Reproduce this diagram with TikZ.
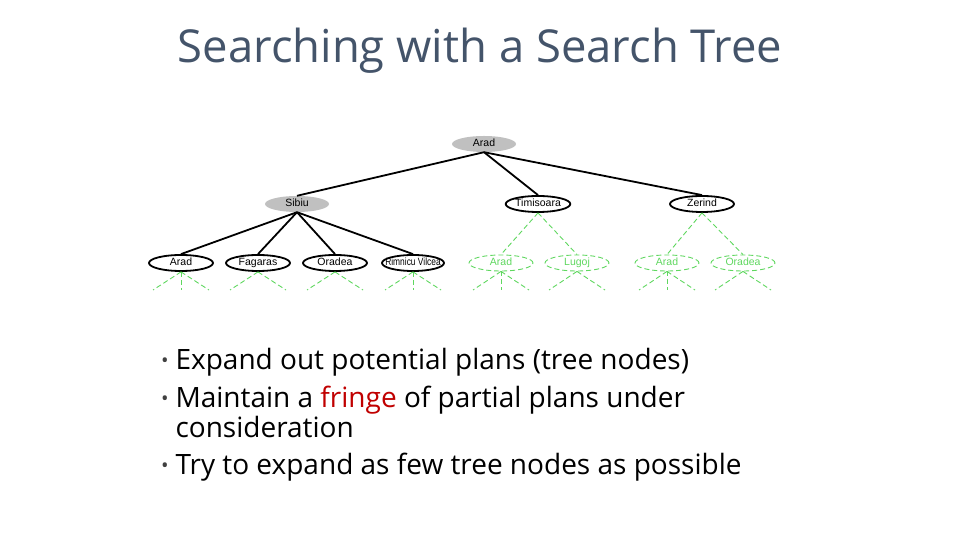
\documentclass[tikz,border=0pt]{standalone}
\usepackage{fontspec}
\setmainfont{Open Sans}
\newfontfamily\treefont{Liberation Sans}
\usetikzlibrary{shapes.geometric}
\definecolor{titlegray}{HTML}{44546A}
\definecolor{fringered}{HTML}{C00000}
\definecolor{stubgreen}{RGB}{95,215,95}
\definecolor{nodegray}{RGB}{192,192,192}
\tikzset{
  city/.style={ellipse, minimum width=64pt, minimum height=16pt, inner sep=0pt,
    text height=7.5pt, text depth=2pt, font=\treefont\fontsize{10.5}{10.5}\selectfont},
  done/.style={city, fill=nodegray},
  open/.style={city, draw, line width=1.8pt, fill=white},
  fresh/.style={city, draw=stubgreen, text=stubgreen, line width=0.9pt,
    dash pattern=on 5pt off 3pt},
  edge/.style={line width=1.8pt},
  stub/.style={draw=stubgreen, line width=0.9pt, dash pattern=on 5pt off 3pt},
  point/.style={anchor=base west, font=\fontsize{28}{30}\selectfont},
  dot/.style={anchor=base, font=\fontsize{20}{20}\selectfont, text=black!75},
}
\begin{document}
\begin{tikzpicture}[x=1pt, y=1pt, node distance=60pt]
    \useasboundingbox (0,0) rectangle (960,540);
    \node[anchor=base, text=titlegray, font=\fontsize{45.4}{45}\selectfont] (title) at (480,477) {Searching with a Search Tree};

    % search tree
    \node[done] (root) at (484,396) {Arad};
    \node[done, below of=root, xshift=-187pt] (sib) {Sibiu};
    \node[open, below of=root, xshift=54pt] (tim) {Timisoara};
    \node[open, below of=root, xshift=218pt] (zer) {Zerind};
    \node[open, below of=sib, node distance=59pt, xshift=-116pt] (a1) {Arad};
    \node[open, below of=sib, node distance=59pt, xshift=-39pt] (fa) {Fagaras};
    \node[open, below of=sib, node distance=59pt, xshift=38pt] (or1) {Oradea};
    \node[open, below of=sib, node distance=59pt, xshift=116pt, minimum width=62pt]
      (rv) {\makebox[0pt]{\scalebox{0.8}[1]{Rimnicu Vilcea}}};
    \node[fresh, below of=tim, node distance=59pt, xshift=-37pt] (a2) {Arad};
    \node[fresh, below of=tim, node distance=59pt, xshift=39pt] (lu) {Lugoj};
    \node[fresh, below of=zer, node distance=59pt, xshift=-35pt] (a3) {Arad};
    \node[fresh, below of=zer, node distance=59pt, xshift=41pt] (or2) {Oradea};

    \draw[edge] (root.south) -- (sib.north);
    \draw[edge] (root.south) -- (tim.north);
    \draw[edge] (root.south) -- (zer.north);
    \foreach \n in {a1,fa,or1,rv}
        \draw[edge] (sib.south) -- (\n.north);
    \draw[stub] (tim.south) -- (a2.north);
    \draw[stub] (tim.south) -- (lu.north);
    \draw[stub] (zer.south) -- (a3.north);
    \draw[stub] (zer.south) -- (or2.north);

    % unexpanded successors
    \foreach \n in {a1,fa,or1,rv,a2,lu,a3,or2} {
        \coordinate[below of=\n, node distance=27pt, xshift=-28pt] (\n-l);
        \coordinate[below of=\n, node distance=27pt, xshift=28pt] (\n-r);
        \draw[stub] (\n.south) -- (\n-l);
        \draw[stub] (\n.south) -- (\n-r);
    }
    \foreach \n in {a1,rv,a2,a3} {
        \coordinate[below of=\n, node distance=27pt] (\n-m);
        \draw[stub] (\n.south) -- (\n-m);
    }

    % bullet points
    \node[point] (p1) at (172,170) {Expand out potential plans (tree nodes)};
    \node[point] (p2) at (172,132) {Maintain a \textcolor{fringered}{fringe} of partial plans under};
    \node[point] (p2b) at (172,102) {consideration};
    \node[point] (p3) at (172,65) {Try to expand as few tree nodes as possible};
    \node[dot] (d1) at (165,172) {•};
    \node[dot] (d2) at (165,134) {•};
    \node[dot] (d3) at (165,67) {•};
\end{tikzpicture}
\end{document}
